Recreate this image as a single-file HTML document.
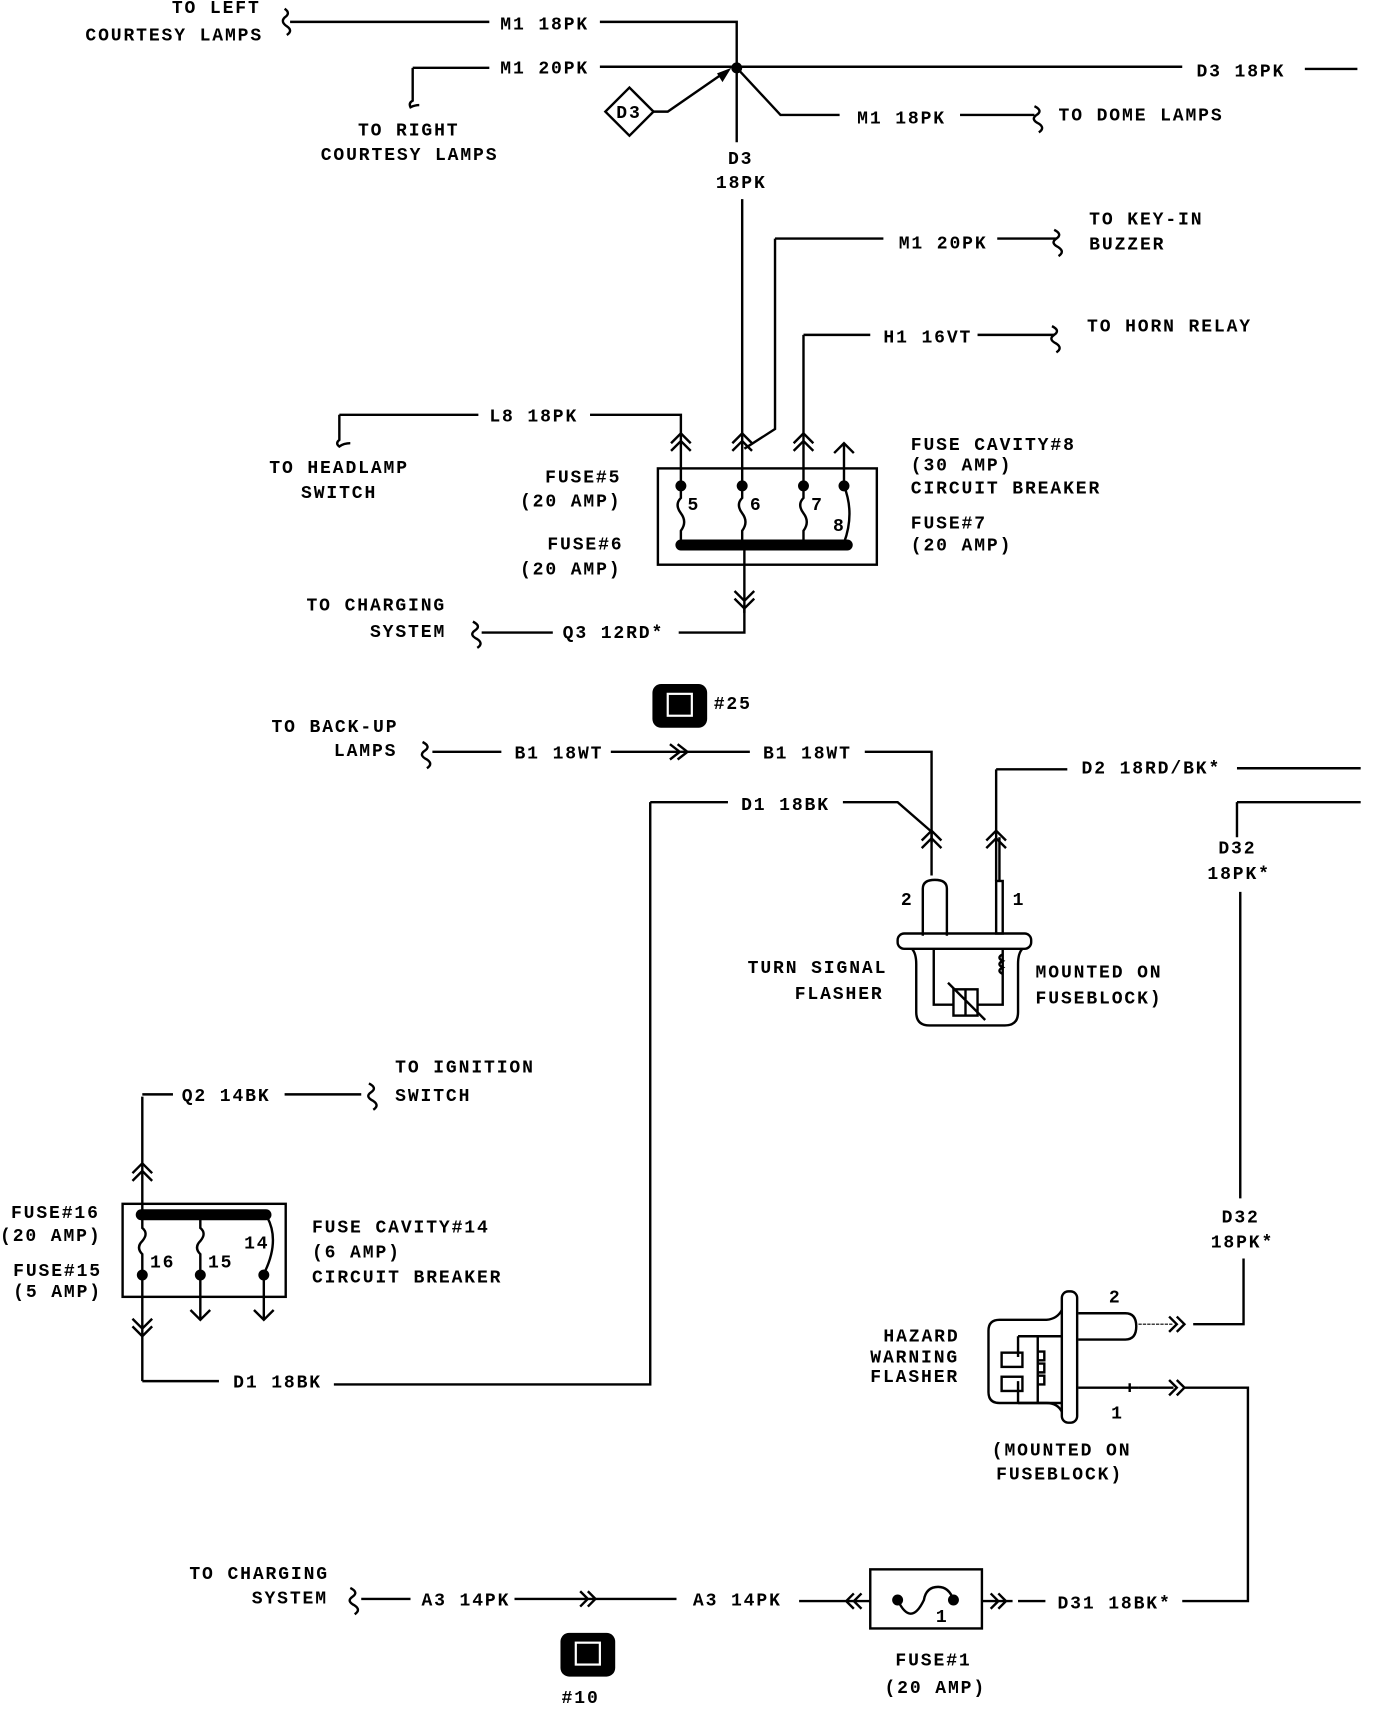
<!DOCTYPE html>
<html><head><meta charset="utf-8"><style>
html,body{margin:0;padding:0;background:#fff;}
svg{display:block;}
text{font-family:"Liberation Mono",monospace;font-weight:bold;font-size:16.5px;letter-spacing:1.7px;fill:#000;}
</style></head><body>
<svg width="1376" height="1716" viewBox="0 0 1257 1568" preserveAspectRatio="none" xmlns="http://www.w3.org/2000/svg">
<g fill="none" stroke="#000" stroke-width="2.2">
<path d="M260 8 q6 4 0 8 q-4 4 2 8 q6 4 0 8"/>
<path d="M265 20 H447 M548 20 H673 V62"/>
<path d="M377 62 H447 M548 61 H1080 M1192 63 H1240"/>
<path d="M377 62 V92 q-4 2 -2 6 q4 -2 8 -2"/>
<path d="M575 80 L597 102 L575 124 L553 102 Z"/>
<path d="M597 102 H610 L662 66"/>
<path d="M673 62 L713 105 H767 M877 105 H945"/>
<path d="M945 97 q8 4 2 8 q-6 4 2 8 q6 4 0 8"/>
<path d="M673 62 V130 M678 182 V402"/>
<path d="M708 218 H807 M911 218 H965 M708 218 V392 L680 410"/>
<path d="M963 210 q8 4 2 8 q-6 4 2 8 q6 4 0 8"/>
<path d="M734 306 H795 M893 306 H963 M734 306 V440"/>
<path d="M961 298 q8 4 2 8 q-6 4 2 8 q6 4 0 8"/>
<path d="M310 379 H437 M539 379 H622 V440"/>
<path d="M310 379 V402 q-4 3 0 6 q4 -3 10 -3"/>
<path d="M613 405 L622 396 L631 405 M613 412 L622 403 L631 412"/>
<path d="M669 405 L678 396 L687 405 M669 412 L678 403 L687 412"/>
<path d="M725 405 L734 396 L743 405 M725 412 L734 403 L743 412"/>
<path d="M762 414 L771 405 L780 414 M771 405 V440"/>
<path d="M678 402 V440"/>
<rect x="601" y="428" width="200" height="88"/>
<path d="M622 444 V455 q-6 6 0 14 q6 8 0 16 V498"/>
<path d="M678 444 V455 q-6 6 0 14 q6 8 0 16 V498"/>
<path d="M734 444 V455 q-6 6 0 14 q6 8 0 16 V498"/>
<path d="M771 444 q10 25 0 52"/>
<path d="M680 498 V560 M671 540 L680 549 L689 540 M671 547 L680 556 L689 547"/>
<path d="M680 556 V578 H620 M505 578 H440"/>
<path d="M432 568 q8 4 2 8 q-6 4 2 8 q6 4 0 8"/>
<path d="M386 678 q8 4 2 8 q-6 4 2 8 q6 4 0 8"/>
<path d="M395 687 H458 M558 687 H630 M612 680 L621 687 L612 694 M619 680 L628 687 L619 694 M630 687 H685 M790 687 H851 V770"/>
<path d="M842 768 L851 759 L860 768 M842 775 L851 766 L860 775"/>
<path d="M910 703 H975 M1130 702 H1243 M910 703 V805"/>
<path d="M901 768 L910 759 L919 768 M901 775 L910 766 L919 775"/>
<path d="M594 733 H665 M770 733 H820 L851 760 M594 733 V1265 H305 M130 1262 H200"/>
<path d="M1130 733 H1243 M1130 733 V765 M1133 815 V1095 M1136 1150 V1210 H1090"/>
<path d="M1075 1203 L1082 1210 L1075 1217 M1068 1203 L1075 1210 L1068 1217"/>
<path d="M1040 1210 H1072" stroke-width="1" stroke-dasharray="3 1"/>
<path d="M1040 1268 H1072 M1075 1261 L1082 1268 L1075 1275 M1068 1261 L1075 1268 L1068 1275 M1082 1268 H1140 V1463 H1080"/>
<path d="M843 855 V812 q0 -8 11 -8 q11 0 11 8 V855" />
<path d="M851 800 V760"/>
<rect x="910" y="805" width="6" height="48"/>
<path d="M913 805 V765"/>
<rect x="820" y="853" width="122" height="14" rx="6"/>
<path d="M833 867 q4 4 4 14 V925 q0 12 12 12 H918 q12 0 12 -12 V881 q0 -10 4 -14"/>
<path d="M853 867 V918 H871 M916 867 V918 H893"/>
<rect x="871" y="904" width="22" height="24"/>
<path d="M882 904 V928 M866 898 L900 932"/>
<path d="M916 872 q-6 3 0 6 q-6 3 0 6 q-6 3 0 6"/>
<path d="M985 1200 H1028 q10 0 10 12 q0 12 -10 12 H985"/>
<path d="M985 1268 H1040 M1032 1264 V1272"/>
<rect x="970" y="1180" width="14" height="120" rx="6"/>
<path d="M970 1197 q-4 8 -14 9 H913 q-10 0 -10 10 V1272 q0 10 10 10 H956 q10 0 14 8"/>
<path d="M930 1221 H970 M930 1282 H970 M930 1221 V1240 M930 1262 V1282 M948 1221 V1282"/>
<rect x="915" y="1236" width="19" height="13"/><rect x="915" y="1258" width="19" height="13"/>
<path d="M948 1235 h6 v8 h-6 M948 1246 h6 v8 h-6 M948 1257 h6 v8 h-6"/>
<path d="M955 1463 H930 M905 1456 L912 1463 L905 1470 M912 1456 L919 1463 L912 1470 M897 1463 H925"/>
<rect x="795" y="1434" width="102" height="54"/>
<path d="M820 1462 q12 25 24 0 q2 -12 13 -12 q10 0 14 12"/>
<path d="M795 1463 H760 M780 1456 L773 1463 L780 1470 M787 1456 L780 1463 L787 1470 M760 1463 H730"/>
<path d="M618 1461 H548 M530 1454 L537 1461 L530 1468 M537 1454 L544 1461 L537 1468 M470 1461 H548 M330 1461 H375"/>
<path d="M320 1451 q8 4 2 8 q-6 4 2 8 q6 4 0 8"/>
<rect x="112" y="1100" width="149" height="85"/>
<path d="M130 1002 V1110 M121 1072 L130 1063 L139 1072 M121 1079 L130 1070 L139 1079 M130 1000 H158 M260 1000 H330"/>
<path d="M337 990 q8 4 2 8 q-6 4 2 8 q6 4 0 8"/>
<path d="M130 1110 V1122 q6 5 0 12 q-6 6 0 12 V1165"/>
<path d="M183 1110 V1122 q6 5 0 12 q-6 6 0 12 V1165"/>
<path d="M244 1112 q12 22 -3 52"/>
<path d="M130 1165 V1262 M121 1205 L130 1214 L139 1205 M121 1212 L130 1221 L139 1212"/>
<path d="M183 1165 V1206 M174 1197 L183 1206 L192 1197"/>
<path d="M241 1165 V1206 M232 1197 L241 1206 L250 1197"/>
</g>
<g fill="#000">
<circle cx="673" cy="62" r="5"/>
<path d="M668 62 L655 67 L660 75 Z"/>
<circle cx="622" cy="444" r="5"/><circle cx="678" cy="444" r="5"/><circle cx="734" cy="444" r="5"/><circle cx="771" cy="444" r="5"/>
<rect x="617" y="493" width="162" height="10" rx="5"/>
<rect x="124" y="1105" width="124" height="10" rx="5"/>
<circle cx="130" cy="1165" r="5"/><circle cx="183" cy="1165" r="5"/><circle cx="241" cy="1165" r="5"/>
<circle cx="820" cy="1462" r="5"/><circle cx="871" cy="1462" r="5"/>
<rect x="596" y="625" width="50" height="40" rx="8"/>
<rect x="512" y="1492" width="50" height="40" rx="8"/>
</g>
<g fill="#fff" stroke="#fff" stroke-width="2">
<rect x="610" y="634" width="22" height="20" fill="none"/>
<rect x="526" y="1501" width="22" height="20" fill="none"/>
</g>
<text x="157" y="12">TO LEFT</text>
<text x="78" y="37">COURTESY LAMPS</text>
<text x="457" y="27">M1 18PK</text>
<text x="457" y="67">M1 20PK</text>
<text x="1093" y="70">D3 18PK</text>
<text x="327" y="124">TO RIGHT</text>
<text x="293" y="146">COURTESY LAMPS</text>
<text x="563" y="108" font-size="13">D3</text>
<text x="783" y="113">M1 18PK</text>
<text x="967" y="110">TO DOME LAMPS</text>
<text x="665" y="150">D3</text>
<text x="654" y="172">18PK</text>
<text x="821" y="227">M1 20PK</text>
<text x="995" y="205">TO KEY-IN</text>
<text x="995" y="228">BUZZER</text>
<text x="807" y="313">H1 16VT</text>
<text x="993" y="303">TO HORN RELAY</text>
<text x="447" y="385">L8 18PK</text>
<text x="246" y="432">TO HEADLAMP</text>
<text x="275" y="455">SWITCH</text>
<text x="498" y="441">FUSE#5</text>
<text x="475" y="463">(20 AMP)</text>
<text x="500" y="502">FUSE#6</text>
<text x="475" y="525">(20 AMP)</text>
<text x="628" y="466">5</text><text x="685" y="466">6</text><text x="741" y="466">7</text><text x="761" y="485">8</text>
<text x="832" y="411">FUSE CAVITY#8</text>
<text x="832" y="430">(30 AMP)</text>
<text x="832" y="451">CIRCUIT BREAKER</text>
<text x="832" y="483">FUSE#7</text>
<text x="832" y="503">(20 AMP)</text>
<text x="280" y="558">TO CHARGING</text>
<text x="338" y="582">SYSTEM</text>
<text x="514" y="583">Q3 12RD*</text>
<text x="652" y="648">#25</text>
<text x="248" y="669">TO BACK-UP</text>
<text x="305" y="691">LAMPS</text>
<text x="470" y="693">B1 18WT</text>
<text x="697" y="693">B1 18WT</text>
<text x="988" y="707">D2 18RD/BK*</text>
<text x="677" y="740">D1 18BK</text>
<text x="1113" y="780">D32</text>
<text x="1103" y="803">18PK*</text>
<text x="823" y="827">2</text><text x="925" y="827">1</text>
<text x="683" y="889">TURN SIGNAL</text>
<text x="726" y="913">FLASHER</text>
<text x="946" y="893">MOUNTED ON</text>
<text x="946" y="917">FUSEBLOCK)</text>
<text x="361" y="980">TO IGNITION</text>
<text x="361" y="1006">SWITCH</text>
<text x="166" y="1006">Q2 14BK</text>
<text x="10" y="1113">FUSE#16</text>
<text x="0" y="1134">(20 AMP)</text>
<text x="12" y="1166">FUSE#15</text>
<text x="12" y="1185">(5 AMP)</text>
<text x="137" y="1158">16</text><text x="190" y="1158">15</text><text x="223" y="1141">14</text>
<text x="285" y="1126">FUSE CAVITY#14</text>
<text x="285" y="1149">(6 AMP)</text>
<text x="285" y="1172">CIRCUIT BREAKER</text>
<text x="1116" y="1117">D32</text>
<text x="1106" y="1140">18PK*</text>
<text x="1013" y="1190">2</text><text x="1015" y="1296">1</text>
<text x="807" y="1226">HAZARD</text>
<text x="795" y="1245">WARNING</text>
<text x="795" y="1263">FLASHER</text>
<text x="213" y="1268">D1 18BK</text>
<text x="906" y="1330">(MOUNTED ON</text>
<text x="910" y="1352">FUSEBLOCK)</text>
<text x="173" y="1443">TO CHARGING</text>
<text x="230" y="1465">SYSTEM</text>
<text x="385" y="1467">A3 14PK</text>
<text x="633" y="1467">A3 14PK</text>
<text x="966" y="1470">D31 18BK*</text>
<text x="855" y="1482">1</text>
<text x="818" y="1522">FUSE#1</text>
<text x="808" y="1547">(20 AMP)</text>
<text x="513" y="1556">#10</text>
</svg>
</body></html>
